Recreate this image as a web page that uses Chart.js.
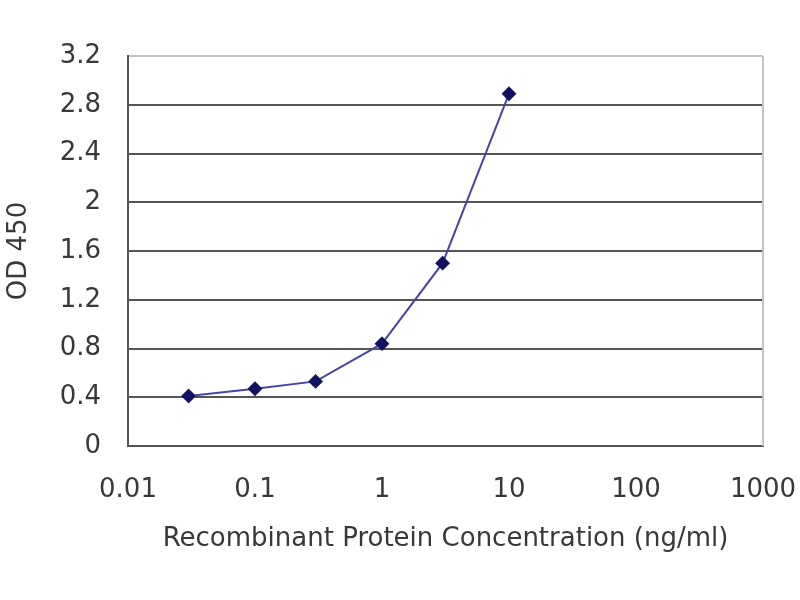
<!DOCTYPE html>
<html>
<head>
<meta charset="utf-8">
<script src="https://cdn.jsdelivr.net/npm/chart.js@4"></script>
<style>
  html, body { margin: 0; padding: 0; background: #fff; }
  #wrap { width: 800px; height: 600px; }
</style>
</head>
<body>
<div id="wrap"><canvas id="grafico" width="800" height="600"></canvas></div>
<script>
// concentraciones (ng/ml) y lecturas OD 450
const concentraciones = [0.03, 0.1, 0.3, 1, 3, 10];
const lecturasOD = [0.41, 0.47, 0.53, 0.84, 1.50, 2.89];
const ticksX = [0.01, 0.1, 1, 10, 100, 1000];
const ticksY = [0, 0.4, 0.8, 1.2, 1.6, 2, 2.4, 2.8, 3.2];

const fuente = { family: "'DejaVu Sans', sans-serif", size: 26 };
const colorTexto = "#383838";

// borde derecho claro del area del grafico
const bordeDerecho = {
  id: "bordeDerecho",
  afterDraw(chart) {
    const { ctx, chartArea } = chart;
    ctx.save();
    ctx.strokeStyle = "#c4c4c4";
    ctx.lineWidth = 2;
    ctx.beginPath();
    ctx.moveTo(chartArea.right, chartArea.top);
    ctx.lineTo(chartArea.right, chartArea.bottom);
    ctx.stroke();
    ctx.restore();
  }
};

const ctx = document.getElementById("grafico").getContext("2d");
new Chart(ctx, {
  type: "line",
  data: {
    datasets: [{
      data: concentraciones.map((x, i) => ({ x: x, y: lecturasOD[i] })),
      borderColor: "#4646a8",
      borderWidth: 2,
      pointStyle: "rectRot",
      pointRadius: 6,
      pointBackgroundColor: "#121262",
      pointBorderColor: "#121262",
      tension: 0
    }]
  },
  options: {
    responsive: false,
    animation: false,
    layout: { padding: { top: 56, right: 37, left: 0, bottom: 45 } },
    plugins: { legend: { display: false }, tooltip: { enabled: false } },
    scales: {
      x: {
        type: "logarithmic",
        min: 0.01,
        max: 1000,
        afterBuildTicks: (scale) => { scale.ticks = ticksX.map(v => ({ value: v })); },
        afterFit: (scale) => {
          scale.height = 109;
          scale.paddingLeft = 0;
          scale.paddingRight = 0;
        },
        grid: {
          drawTicks: false,
          lineWidth: 2,
          color: (c) => (c.tick && c.tick.value === 1000) ? "#c4c4c4" : "rgba(0,0,0,0)"
        },
        border: { color: "#555", width: 2 },
        ticks: {
          padding: 29,
          color: colorTexto,
          font: fuente,
          maxRotation: 0,
          autoSkip: false,
          callback: (v) => String(v)
        },
        title: {
          display: true,
          text: "Recombinant Protein Concentration (ng/ml)",
          color: colorTexto,
          font: fuente,
          padding: { top: 0, bottom: 0 }
        }
      },
      y: {
        min: 0,
        max: 3.2,
        afterBuildTicks: (scale) => { scale.ticks = ticksY.map(v => ({ value: v })); },
        afterFit: (scale) => {
          scale.width = 128;
          scale.paddingTop = 0;
          scale.paddingBottom = 0;
        },
        grid: {
          drawTicks: false,
          lineWidth: 2,
          color: (c) => (c.tick && c.tick.value === 3.2) ? "#c4c4c4" : "#555"
        },
        border: { color: "#555", width: 2 },
        ticks: {
          padding: 27,
          color: colorTexto,
          font: fuente,
          callback: (v) => String(v)
        },
        title: {
          display: true,
          text: "OD 450",
          color: colorTexto,
          font: fuente,
          padding: { top: 4, bottom: 0 }
        }
      }
    }
  },
  plugins: [bordeDerecho]
});
</script>
</body>
</html>
